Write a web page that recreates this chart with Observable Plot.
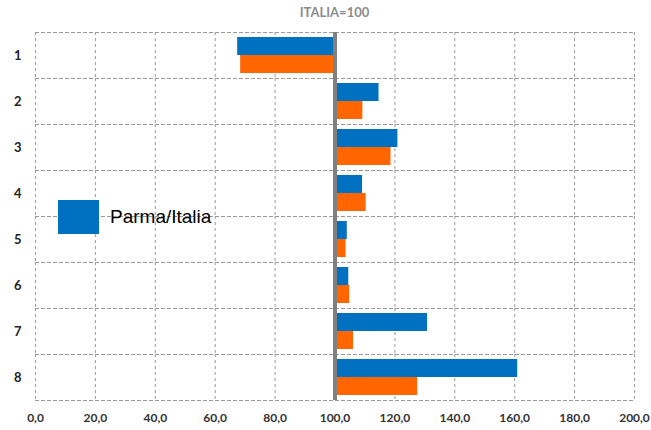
<!DOCTYPE html>
<html>
<head>
<meta charset="utf-8">
<script src="https://cdn.jsdelivr.net/npm/d3@7"></script>
<script src="https://cdn.jsdelivr.net/npm/@observablehq/plot@0.6"></script>
<style>
  html, body { margin: 0; padding: 0; background: #fff; }
  #wrap { position: relative; width: 651px; height: 430px; font-family: "Lato", "Liberation Sans", sans-serif; }
  #title { height: 22px; line-height: 24px; padding-left: 35px; padding-right: 17px; text-align: center;
           font-weight: bold; font-size: 13px; color: #8c8c8c; }
  #legend { position: absolute; left: 58px; top: 200px; display: flex; align-items: center; }
  #legend .sw { width: 41px; height: 34px; background: #0070C0; }
  #legend .lb { margin-left: 11px; font-family: "Liberation Sans", Arial, sans-serif; font-size: 19px; color: #000; }
</style>
</head>
<body>
<div id="wrap">
  <div id="title">ITALIA=100</div>
  <div id="chart"></div>
  <div id="legend"><div class="sw"></div><div class="lb">Parma/Italia</div></div>
</div>
<script>
const categories = ["1", "2", "3", "4", "5", "6", "7", "8"];
const seriesNames = ["Parma/Italia", "Serie 2"];
const parmaValues = [67.5, 114.7, 121.0, 109.2, 104.1, 104.6, 130.9, 161.0];
const secondValues = [68.5, 109.3, 118.7, 110.4, 103.7, 104.9, 106.2, 127.6];
const baseline = 100;
const xTicks = [0, 20, 40, 60, 80, 100, 120, 140, 160, 180, 200];
const colors = ["#0070C0", "#FF6600"];

const data = [];
categories.forEach((c, i) => {
  data.push({cat: c, series: seriesNames[0], value: parmaValues[i]});
  data.push({cat: c, series: seriesNames[1], value: secondValues[i]});
});

const fmt = d => d.toFixed(1).replace(".", ",");
const gridStyle = {stroke: "#9a9a9a", strokeOpacity: 1, strokeDasharray: "3,3"};

const chart = Plot.plot({
  width: 651,
  height: 408,
  marginTop: 10,
  marginBottom: 30,
  marginLeft: 35,
  marginRight: 17,
  style: {fontFamily: "Lato, 'Liberation Sans', sans-serif", background: "#fff"},
  x: {domain: [0, 200], ticks: xTicks},
  y: {domain: seriesNames, paddingInner: 0, paddingOuter: 0.27, axis: null},
  fy: {domain: categories, padding: 0},
  color: {domain: seriesNames, range: colors},
  marks: [
    Plot.gridX(xTicks, gridStyle),
    Plot.frame({anchor: "top", ...gridStyle}),
    Plot.frame({anchor: "bottom", facetAnchor: "bottom", ...gridStyle}),
    Plot.barX(data, {x1: baseline, x2: "value", y: "series", fy: "cat", fill: "series"}),
    Plot.ruleX([baseline], {stroke: "#808080", strokeWidth: 4}),
    Plot.axisFy({anchor: "left", tickSize: 0, tickPadding: 14, fontWeight: "bold", fontSize: 13, fill: "#222", label: null}),
    Plot.axisX(xTicks, {tickSize: 0, tickPadding: 13, tickFormat: fmt, fontWeight: "bold", fontSize: 12, fill: "#333", label: null})
  ]
});
document.getElementById("chart").appendChild(chart);
</script>
</body>
</html>
